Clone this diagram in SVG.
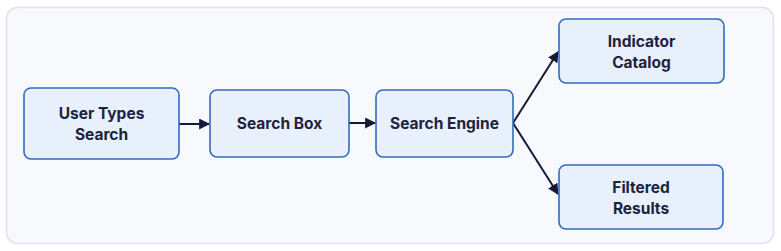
<svg xmlns="http://www.w3.org/2000/svg" width="781" height="251" viewBox="0 0 781 251">
<defs>
<marker id="ah" viewBox="0 0 10 10" refX="9" refY="5" markerWidth="11" markerHeight="11" markerUnits="userSpaceOnUse" orient="auto">
<path d="M0,0 L10,5 L0,10 z" fill="#141b3a"/>
</marker>
</defs>
<style>
.node rect{fill:#e8f0fb;stroke:#2f6bc1;stroke-width:1.6}
.node text{font-family:Inter,"Open Sans","Liberation Sans",sans-serif;font-weight:700;font-size:15.5px;fill:#1b2340;text-anchor:middle}
.conn line{stroke:#141b3a;stroke-width:2;marker-end:url(#ah)}
</style>
<rect x="6.5" y="7.5" width="767" height="236" rx="11" fill="#f8f9fd" stroke="#dfe2ee" stroke-width="1.5"/>
<g class="conn">
<line x1="179" y1="124" x2="209" y2="124"/>
<line x1="349" y1="123" x2="375" y2="123"/>
<line x1="513" y1="123" x2="558" y2="52"/>
<line x1="513" y1="123" x2="558" y2="194"/>
</g>
<g id="user" class="node">
<rect x="24" y="88" width="155" height="71" rx="7"/>
<text x="101.5" y="119">User Types</text>
<text x="101.5" y="140">Search</text>
</g>
<g id="box" class="node">
<rect x="210" y="90" width="139" height="67" rx="7"/>
<text x="279.5" y="128.5">Search Box</text>
</g>
<g id="engine" class="node">
<rect x="376" y="90" width="137" height="67" rx="7"/>
<text x="444.5" y="128.5">Search Engine</text>
</g>
<g id="catalog" class="node">
<rect x="559" y="19" width="165" height="64" rx="7"/>
<text x="641.5" y="46.5">Indicator</text>
<text x="641.5" y="67.5">Catalog</text>
</g>
<g id="results" class="node">
<rect x="559" y="165" width="164" height="64" rx="7"/>
<text x="641" y="192.5">Filtered</text>
<text x="641" y="213.5">Results</text>
</g>
</svg>
